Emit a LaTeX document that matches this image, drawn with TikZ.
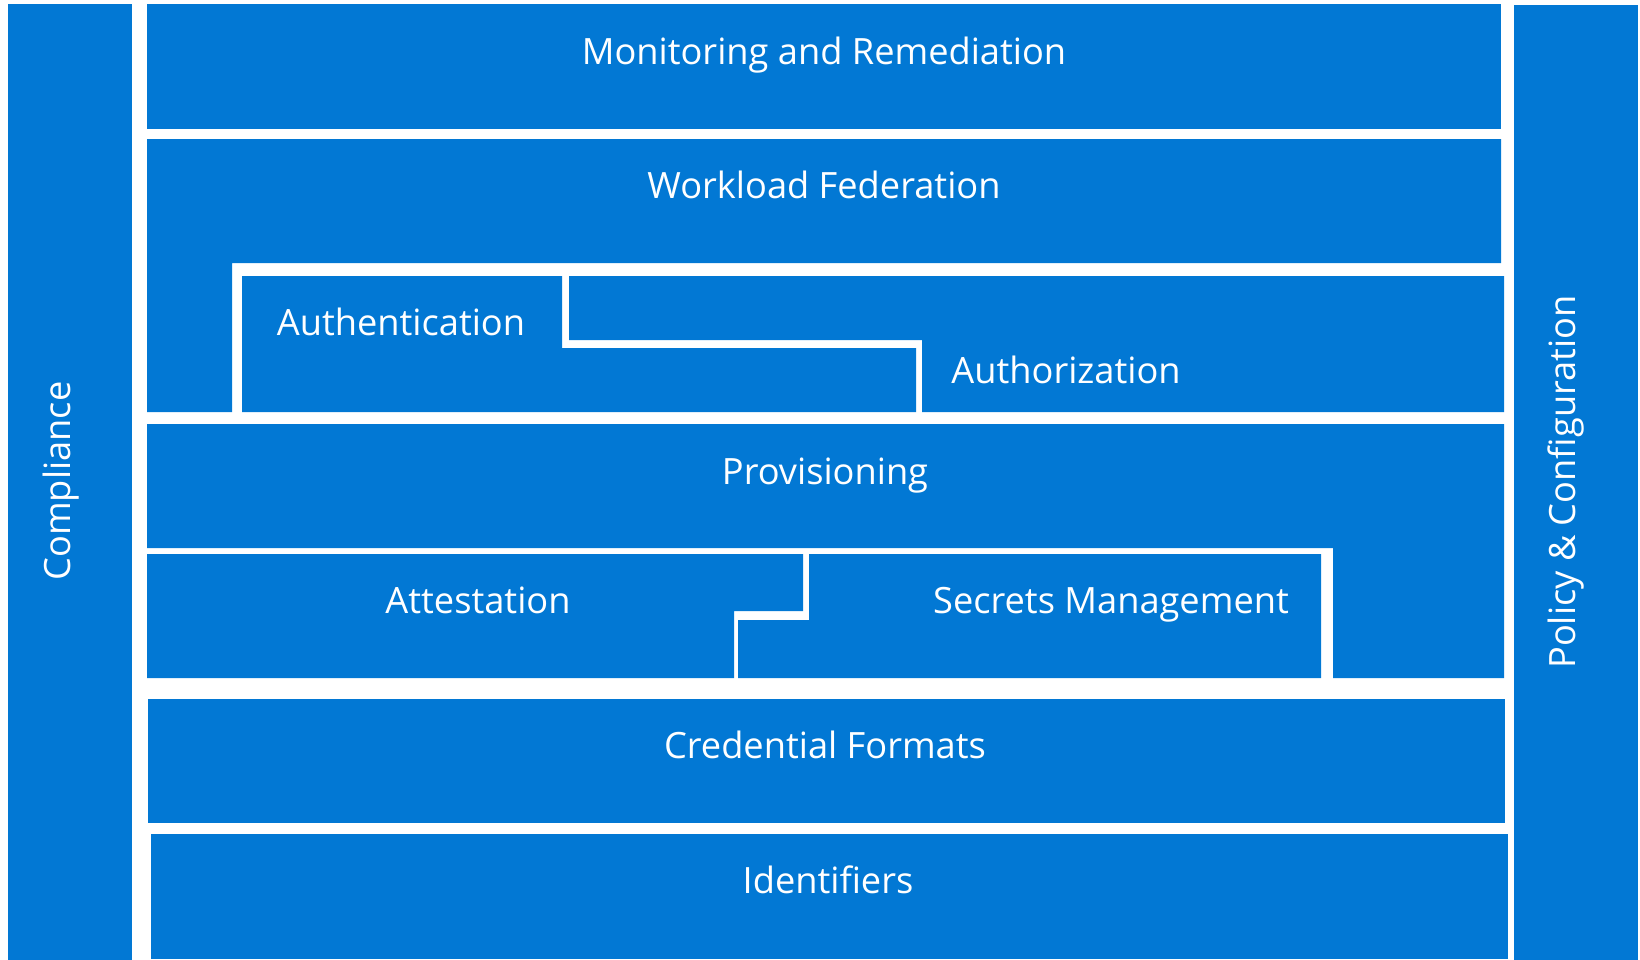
\documentclass[tikz,border=0pt]{standalone}
\usepackage{fontspec}
\setmainfont{Open Sans}
\usepackage{tikz}
\usetikzlibrary{positioning}

\definecolor{layerblue}{RGB}{2,120,212}
\newcommand{\layerfont}{\fontsize{10.3}{12}\selectfont}

\tikzset{
	layer/.style={fill=layerblue, inner sep=0pt, outer sep=0pt, anchor=north west},
	layertext/.style={text=white, font=\layerfont, inner sep=0pt, text height=0.72em, text depth=0pt},
}

\begin{document}
\begin{tikzpicture}[x=0.01cm, y=-0.01cm]
\useasboundingbox (0,0) rectangle (1640,959);

% Side columns
\node [layer,
	minimum width=1.24cm,
	minimum height=9.55cm
] (compliance) at (8,4) {};
\node [layer,
	minimum width=1.24cm,
	minimum height=9.54cm
] (policy) at (1514,5) {};

% Monitoring
\node [layer,
	minimum width=13.53cm,
	minimum height=1.25cm
] (monitoring) at (147,4) {};

% Workload federation
\fill[layerblue] (147,139) -- (1501,139) -- (1501,263) -- (232,263) -- (232,412) -- (147,412) -- cycle;

% Authentication and authorization
\fill[layerblue] (242,276) -- (562,276) -- (562,348) -- (916,348) -- (916,412) -- (242,412) -- cycle;
\fill[layerblue] (569,276) -- (1504,276) -- (1504,412) -- (922,412) -- (922,340) -- (569,340) -- cycle;

% Provisioning
\fill[layerblue] (147,424) -- (1504,424) -- (1504,678) -- (1333,678) -- (1333,548) -- (147,548) -- cycle;

% Attestation and secrets
\fill[layerblue] (147,554) -- (803,554) -- (803,611) -- (734,611) -- (734,678) -- (147,678) -- cycle;
\fill[layerblue] (809,554) -- (1321,554) -- (1321,678) -- (738,678) -- (738,620) -- (809,620) -- cycle;

% Credential formats
\node [layer,
	minimum width=13.56cm,
	minimum height=1.24cm
] (credential) at (148,699) {};

% Identifiers
\node [layer,
	minimum width=13.56cm,
	minimum height=1.25cm
] (identifiers) at (151,834) {};

% Labels
\node [layertext, rotate=90] (compliance_text) at (58,481) {Compliance};
\node [layertext, rotate=90] (policy_text) at (1563,482) {Policy \& Configuration};
\node [layertext] (monitoring_text) at (824,52) {Monitoring and Remediation};
\node [layertext] (workload_text) at (824,186) {Workload Federation};
\node [layertext] (authentication_text) at (401,323) {Authentication};
\node [layertext] (authorization_text) at (1066,371) {Authorization};
\node [layertext] (provisioning_text) at (825,472) {Provisioning};
\node [layertext] (attestation_text) at (478,601) {Attestation};
\node [layertext] (secrets_text) at (1111,601) {Secrets Management};
\node [layertext] (credential_text) at (825,746) {Credential Formats};
\node [layertext] (identifiers_text) at (828,881) {Identifiers};

\end{tikzpicture}
\end{document}
